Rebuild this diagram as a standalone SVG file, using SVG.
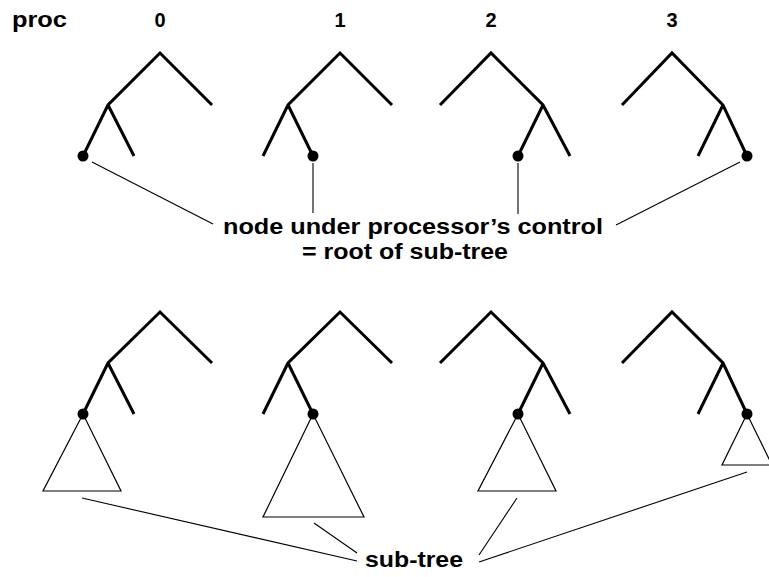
<svg xmlns="http://www.w3.org/2000/svg" width="769" height="577" viewBox="0 0 769 577">
<style>
.tree{fill:none;stroke:#000;stroke-width:3;stroke-linecap:butt;stroke-linejoin:miter}
.dot{fill:#000}
.tri{fill:none;stroke:#000;stroke-width:1.2}
.lead{fill:none;stroke:#000;stroke-width:1.1}
.lbl{font-family:"Liberation Sans",Arial,sans-serif;font-weight:bold;fill:#000}
</style>
<rect width="769" height="577" fill="#fff"/>
<g id="header">
<text class="lbl" x="12" y="27" font-size="22" textLength="55" lengthAdjust="spacingAndGlyphs">proc</text>
<text class="lbl" x="160" y="27" font-size="20" text-anchor="middle">0</text>
<text class="lbl" x="340" y="27" font-size="20" text-anchor="middle">1</text>
<text class="lbl" x="491" y="27" font-size="20" text-anchor="middle">2</text>
<text class="lbl" x="672" y="27" font-size="20" text-anchor="middle">3</text>
</g>
<g id="top-tree-0">
<path class="tree" d="M83,156 L108,105 L160,53 L212,105 M108,105 L134,156"/>
<circle class="dot" cx="83" cy="156" r="5.5"/>
</g>
<g id="top-tree-1">
<path class="tree" d="M263,156 L288,105 L340,53 L392,105 M288,105 L313,156"/>
<circle class="dot" cx="313" cy="156" r="5.5"/>
</g>
<g id="top-tree-2">
<path class="tree" d="M440,105 L491,53 L543,105 L570,156 M543,105 L518,156"/>
<circle class="dot" cx="518" cy="156" r="5.5"/>
</g>
<g id="top-tree-3">
<path class="tree" d="M622,105 L672,53 L723,105 L747,156 M723,105 L698,156"/>
<circle class="dot" cx="747" cy="156" r="5.5"/>
</g>
<g id="label-root">
<text class="lbl" x="223" y="234" font-size="22" textLength="380" lengthAdjust="spacingAndGlyphs">node under processor’s control</text>
<text class="lbl" x="302" y="259" font-size="22" textLength="206" lengthAdjust="spacingAndGlyphs">= root of sub-tree</text>
</g>
<g id="bottom-tree-0">
<path class="tree" d="M83,414 L108,363 L160,312 L212,363 M108,363 L134,414"/>
<circle class="dot" cx="83" cy="414" r="5.5"/>
<path class="tri" d="M83,414 L43,491 L121,491 Z"/>
</g>
<g id="bottom-tree-1">
<path class="tree" d="M263,414 L288,363 L340,312 L392,363 M288,363 L313,414"/>
<circle class="dot" cx="313" cy="414" r="5.5"/>
<path class="tri" d="M313,414 L263,517 L364,517 Z"/>
</g>
<g id="bottom-tree-2">
<path class="tree" d="M440,363 L491,312 L543,363 L570,414 M543,363 L518,414"/>
<circle class="dot" cx="518" cy="414" r="5.5"/>
<path class="tri" d="M518,414 L478,491 L556,491 Z"/>
</g>
<g id="bottom-tree-3">
<path class="tree" d="M622,363 L672,312 L723,363 L747,414 M723,363 L698,414"/>
<circle class="dot" cx="747" cy="414" r="5.5"/>
<path class="tri" d="M747,414 L722,465 L772,465 Z"/>
</g>
<g id="label-subtree">
<text class="lbl" x="365" y="567" font-size="22" textLength="98" lengthAdjust="spacingAndGlyphs">sub-tree</text>
</g>
<g id="connectors">
<line class="lead" x1="92" y1="162" x2="213" y2="224"/>
<line class="lead" x1="313" y1="163" x2="313" y2="213"/>
<line class="lead" x1="518" y1="163" x2="518" y2="214"/>
<line class="lead" x1="740" y1="162" x2="616" y2="225"/>
<line class="lead" x1="82" y1="498" x2="357" y2="561"/>
<line class="lead" x1="314" y1="523" x2="357" y2="553"/>
<line class="lead" x1="517" y1="498" x2="479" y2="555"/>
<line class="lead" x1="747" y1="472" x2="479" y2="562"/>
</g>
</svg>
